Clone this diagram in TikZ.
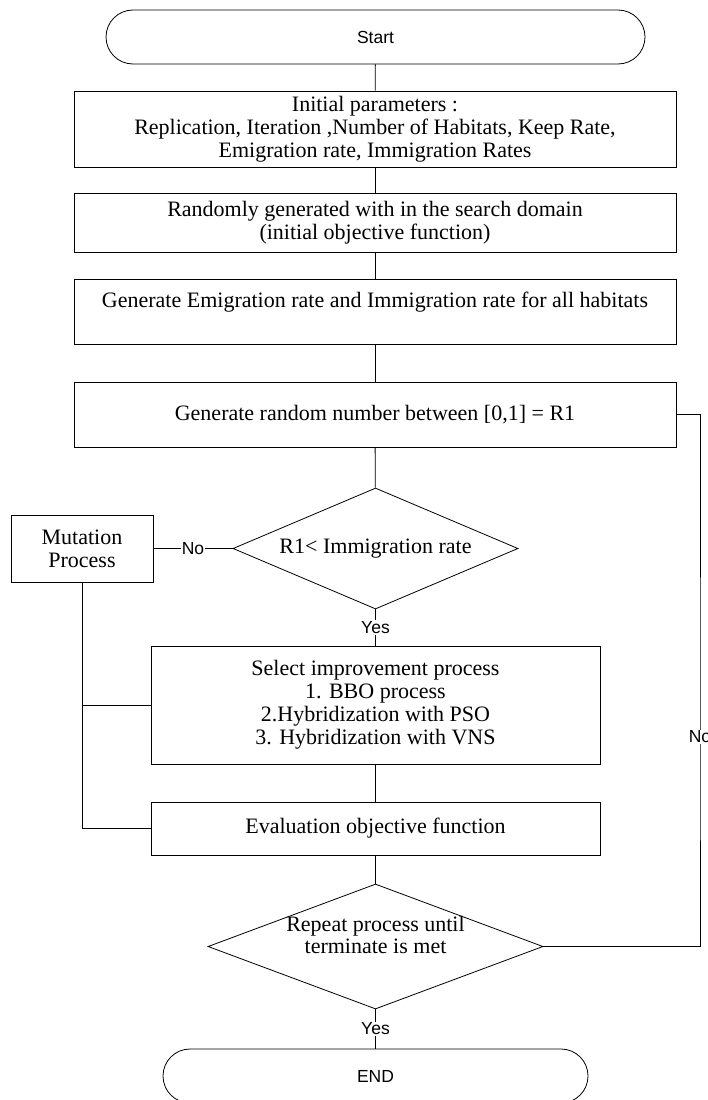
\documentclass[tikz,border=0pt]{standalone}
\usepackage{fontspec}
\setmainfont{Liberation Serif}
\newfontfamily\labelfont{Liberation Sans}
\usetikzlibrary{shapes.geometric}

\tikzset{
	procbox/.style={draw, line width=0.8pt, rectangle, align=center, inner sep=0pt,
		font=\fontsize{22}{23}\selectfont},
	termbox/.style={draw, line width=0.8pt, rectangle, rounded corners=27pt, inner sep=0pt,
		minimum height=54pt, font=\labelfont\fontsize{17.5}{20}\selectfont},
	decbox/.style={draw, line width=0.8pt, diamond, aspect=2.4, inner sep=0pt, align=center,
		font=\fontsize{22}{22}\selectfont},
	lbl/.style={fill=white, inner sep=1pt, font=\labelfont\fontsize{17.5}{20}\selectfont},
}

\begin{document}
\begin{tikzpicture}[x=1pt, y=-1pt, line width=0.8pt]
		%%%%% START %%%%%
		\useasboundingbox (0, 0) rectangle (708, 1100);
		
		\node[termbox, minimum width=539pt] (start) at (375.5, 37) {Start};
		
		\node[procbox, minimum width=602pt, minimum height=76pt] (param) at (375, 129)
			{Initial parameters :\\Replication, Iteration ,Number of Habitats, Keep Rate,\\Emigration rate, Immigration Rates};
		\node[procbox, minimum width=602pt, minimum height=59pt] (init) at (375, 222.5)
			{Randomly generated with in the search domain\\(initial objective function)};
		\node[procbox, minimum width=602pt, minimum height=65pt] (rates) at (375, 311.5)
			{Generate Emigration rate and Immigration rate for all habitats\\\mbox{}};
		\node[procbox, minimum width=602pt, minimum height=65pt] (rand) at (375, 414.5)
			{Generate random number between [0,1] = R1};
		
		\node[decbox, minimum width=285pt, minimum height=121pt] (immig) at (375.5, 548.5)
			{R1< Immigration rate};
		\node[procbox, minimum width=142pt, minimum height=67pt] (mutate) at (82, 548.5)
			{Mutation\\Process};
		
		\node[procbox, minimum width=449pt, minimum height=118pt] (improve) at (375.5, 705)
			{Select improvement process\\1. BBO process\\2.Hybridization with PSO\\3. Hybridization with VNS};
		\node[procbox, minimum width=449pt, minimum height=53pt] (evaluate) at (375.5, 828.5)
			{Evaluation objective function};
		
		% text sits a little above the middle of the diamond
		\node[decbox, minimum width=335pt, minimum height=125pt] (repeat) at (375.5, 946.5)
			{\raisebox{3pt}[0pt][0pt]{\begin{tabular}{@{}c@{}}Repeat process until\\terminate is met\end{tabular}}};
		
		\node[termbox, minimum width=425pt] (finish) at (375.5, 1076) {END};
		
		\coordinate (loop) at (700, 737);
		
		\draw (start) -- (param);
		\draw (param) -- (init);
		\draw (init) -- (rates);
		\draw (rates) -- (rand);
		\draw (rand) -- (immig);
		
		\draw (immig.west) -- node[lbl] {No} (mutate.east);
		\draw (immig.south) -- node[lbl] {Yes} (improve.north);
		\draw (improve) -- (evaluate);
		\draw (mutate.south) |- (evaluate.west);
		\draw (mutate.south |- improve.west) -- (improve.west);
		
		\draw (evaluate) -- (repeat.north);
		\draw (repeat.south) -- node[lbl] {Yes} (finish.north);
		\draw (repeat.east) -| (loop) node[lbl] {No} |- (rand.east);
		
		%%%%% END %%%%%
	\end{tikzpicture}
\end{document}
